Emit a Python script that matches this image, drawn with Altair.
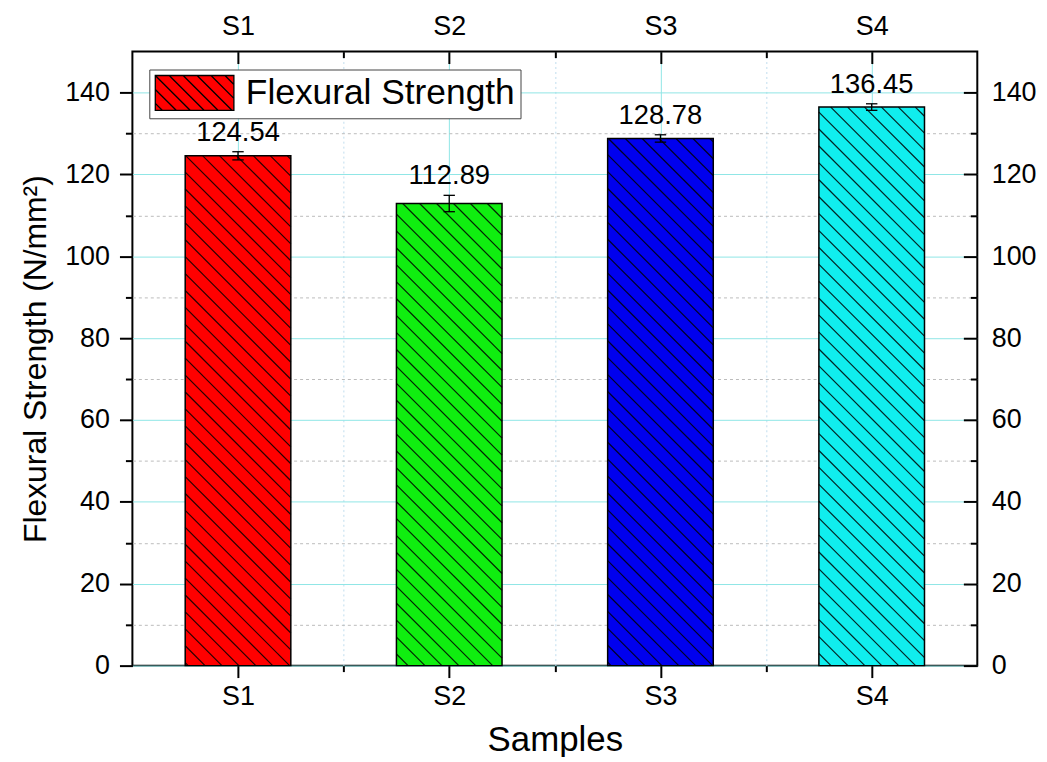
import altair as alt
import pandas as pd
import math

# ---------------- data ----------------
samples = ["S1", "S2", "S3", "S4"]
strength = [124.54, 112.89, 128.78, 136.45]
errors = [1.0, 2.0, 0.9, 0.8]
bar_colors = ["#FF0000", "#10EE10", "#0000EE", "#10EEEE"]
legend_label = "Flexural Strength"
y_major = [0, 20, 40, 60, 80, 100, 120, 140]
y_minor = [10, 30, 50, 70, 90, 110, 130]
x_major = [1, 2, 3, 4]
x_minor = [1.5, 2.5, 3.5]

# ---------------- layout ----------------
W, H = 849, 617
Y_MAX = 150
FONT = "Liberation Sans"
HALF = 0.25          # half bar width (category units)
CAP = 0.027          # half cap width
HATCH = 17           # hatch spacing, px
GRID_MAJ = "#8FE6E6"
GRID_MIN = "#BBBBBB"

pos = list(range(1, len(samples) + 1))
df = pd.DataFrame({"sample": samples, "pos": pos, "value": strength, "err": errors})
df["x0"] = df["pos"] - HALF
df["x1"] = df["pos"] + HALF
df["lo"] = df["value"] - df["err"]
df["hi"] = df["value"] + df["err"]
df["label"] = df["value"].map(lambda v: f"{v:.2f}")
df["cx0"] = df["pos"] - CAP
df["cx1"] = df["pos"] + CAP

# hatch segments derived from the bars (45 deg in screen space)
kx = W / len(samples)
ky = H / Y_MAX
rows = []
for r in df.itertuples():
    u0 = (r.x0 - 0.5) * kx
    u1 = (r.x1 - 0.5) * kx
    v0 = (Y_MAX - r.value) * ky
    v1 = Y_MAX * ky
    c = math.ceil((u0 - v1) / HATCH) * HATCH
    while c <= u1 - v0:
        ua = max(u0, v0 + c)
        ub = min(u1, v1 + c)
        if ub - ua > 0.5:
            va, vb = ua - c, ub - c
            rows.append({"hx": ua / kx + 0.5, "hx2": ub / kx + 0.5,
                         "hy": Y_MAX - va / ky, "hy2": Y_MAX - vb / ky})
        c += HATCH
hatch_df = pd.DataFrame(rows)

# legend swatch path (unit = sqrt(size)/2 px)
LW, LS = 4.514, 0.8
parts = [f"M-1,-1H{-1 + LW:.3f}V1H-1Z"]
lu0, lu1, lv0, lv1 = -1.0, -1 + LW, -1.0, 1.0
c = math.ceil((lu0 - lv1) / LS) * LS
while c <= lu1 - lv0:
    ua = max(lu0, lv0 + c)
    ub = min(lu1, lv1 + c)
    if ub - ua > 0.05:
        parts.append(f"M{ua:.3f},{ua - c:.3f}L{ub:.3f},{ub - c:.3f}")
    c += LS
legend_path = " ".join(parts)
leg_df = pd.DataFrame({"series": [legend_label], "pos": [1], "value": [-50]})

label_expr = "[" + ",".join(f"'{s}'" for s in samples) + "][round(datum.value)-1]"

xs = alt.Scale(domain=[0.5, len(samples) + 0.5], nice=False, zero=False)
ys = alt.Scale(domain=[0, Y_MAX], nice=False, zero=True)

ax_bottom_major = alt.Axis(orient="bottom", values=x_major, labelExpr=label_expr,
                           title="Samples", grid=True, gridColor=GRID_MAJ, gridWidth=1,
                           tickSize=12, labelPadding=6, titlePadding=13, titleFontSize=35)
ax_bottom_minor = alt.Axis(orient="bottom", values=x_minor, labels=False, title=None,
                           grid=True, gridColor="#BFDDEE", gridDash=[2, 3], tickSize=6)
ax_top_major = alt.Axis(orient="top", values=x_major, labelExpr=label_expr, title=None,
                        grid=False, tickSize=12, offset=-12, labelPadding=11)
ax_top_minor = alt.Axis(orient="top", values=x_minor, labels=False, title=None,
                        grid=False, tickSize=6, offset=-6)
ay_left_major = alt.Axis(orient="left", values=y_major, format="d",
                         title="Flexural Strength (N/mm²)", grid=True, gridColor=GRID_MAJ,
                         tickSize=13, labelPadding=10, titlePadding=12, titleFontSize=32)
ay_left_minor = alt.Axis(orient="left", values=y_minor, labels=False, title=None,
                         grid=True, gridColor=GRID_MIN, gridDash=[3, 3], tickSize=7)
ay_right_major = alt.Axis(orient="right", values=y_major, format="d", title=None,
                          grid=False, tickSize=14, offset=-14, labelPadding=14)
ay_right_minor = alt.Axis(orient="right", values=y_minor, labels=False, title=None,
                          grid=False, tickSize=7, offset=-7)

legend_layer = alt.Chart(leg_df).mark_point(
    filled=False, fill=bar_colors[0], stroke="black", strokeWidth=1.3, opacity=1, clip=True
).encode(
    x=alt.X("pos:Q", scale=xs, axis=None),
    y=alt.Y("value:Q", scale=ys, axis=None),
    shape=alt.Shape("series:N", scale=alt.Scale(domain=[legend_label], range=[legend_path]),
                    legend=alt.Legend(title=None, orient="none", legendX=17, legendY=18,
                                      symbolSize=1225, symbolStrokeWidth=1.3,
                                      labelFontSize=35.5, labelFont=FONT, labelColor="black",
                                      labelOffset=55, labelLimit=600, padding=5,
                                      strokeColor="#444444", fillColor="white")),
)

bars = alt.Chart(df).mark_bar(stroke="black", strokeWidth=1.5).encode(
    x=alt.X("x0:Q", scale=xs, axis=ax_bottom_major),
    x2="x1:Q",
    y=alt.Y("value:Q", scale=ys, axis=ay_left_major),
    y2=alt.datum(0),
    fill=alt.Fill("sample:N", scale=alt.Scale(domain=samples, range=bar_colors), legend=None),
)

hatch = alt.Chart(hatch_df).mark_rule(color="black", strokeWidth=1.2, opacity=0.85).encode(
    x=alt.X("hx:Q", scale=xs, axis=ax_bottom_minor),
    x2="hx2:Q",
    y=alt.Y("hy:Q", scale=ys, axis=ay_left_minor),
    y2="hy2:Q",
)

err_rule = alt.Chart(df).mark_rule(color="black", strokeWidth=1.3).encode(
    x=alt.X("pos:Q", scale=xs, axis=ax_top_major),
    y=alt.Y("lo:Q", scale=ys, axis=ay_right_major),
    y2="hi:Q",
)

caps = alt.Chart(df).transform_fold(["lo", "hi"], as_=["end", "capv"]).mark_rule(
    color="black", strokeWidth=1.3
).encode(
    x=alt.X("cx0:Q", scale=xs, axis=ax_top_minor),
    x2="cx1:Q",
    y=alt.Y("capv:Q", type="quantitative", scale=ys, axis=ay_right_minor),
)

labels = alt.Chart(df).mark_text(baseline="bottom", dy=-5, fontSize=27.5, font=FONT,
                                 color="black").encode(
    x=alt.X("pos:Q", scale=xs, axis=None),
    y=alt.Y("hi:Q", scale=ys, axis=None),
    text="label:N",
)

chart = alt.layer(legend_layer, bars, hatch, err_rule, caps, labels).resolve_axis(
    x="independent", y="independent"
).properties(
    width=W, height=H,
    autosize=alt.AutoSizeParams(type="none"),
    padding={"left": 125, "top": 42, "right": 62, "bottom": 90},
    background="white",
).configure_view(
    stroke="black", strokeWidth=2
).configure_axis(
    labelFont=FONT, titleFont=FONT, labelColor="black", titleColor="black",
    tickColor="black", tickWidth=2, labelFontSize=27, titleFontWeight="normal",
    domain=False,
)

chart.save("out.html", embed_options={"renderer": "svg", "actions": False})
